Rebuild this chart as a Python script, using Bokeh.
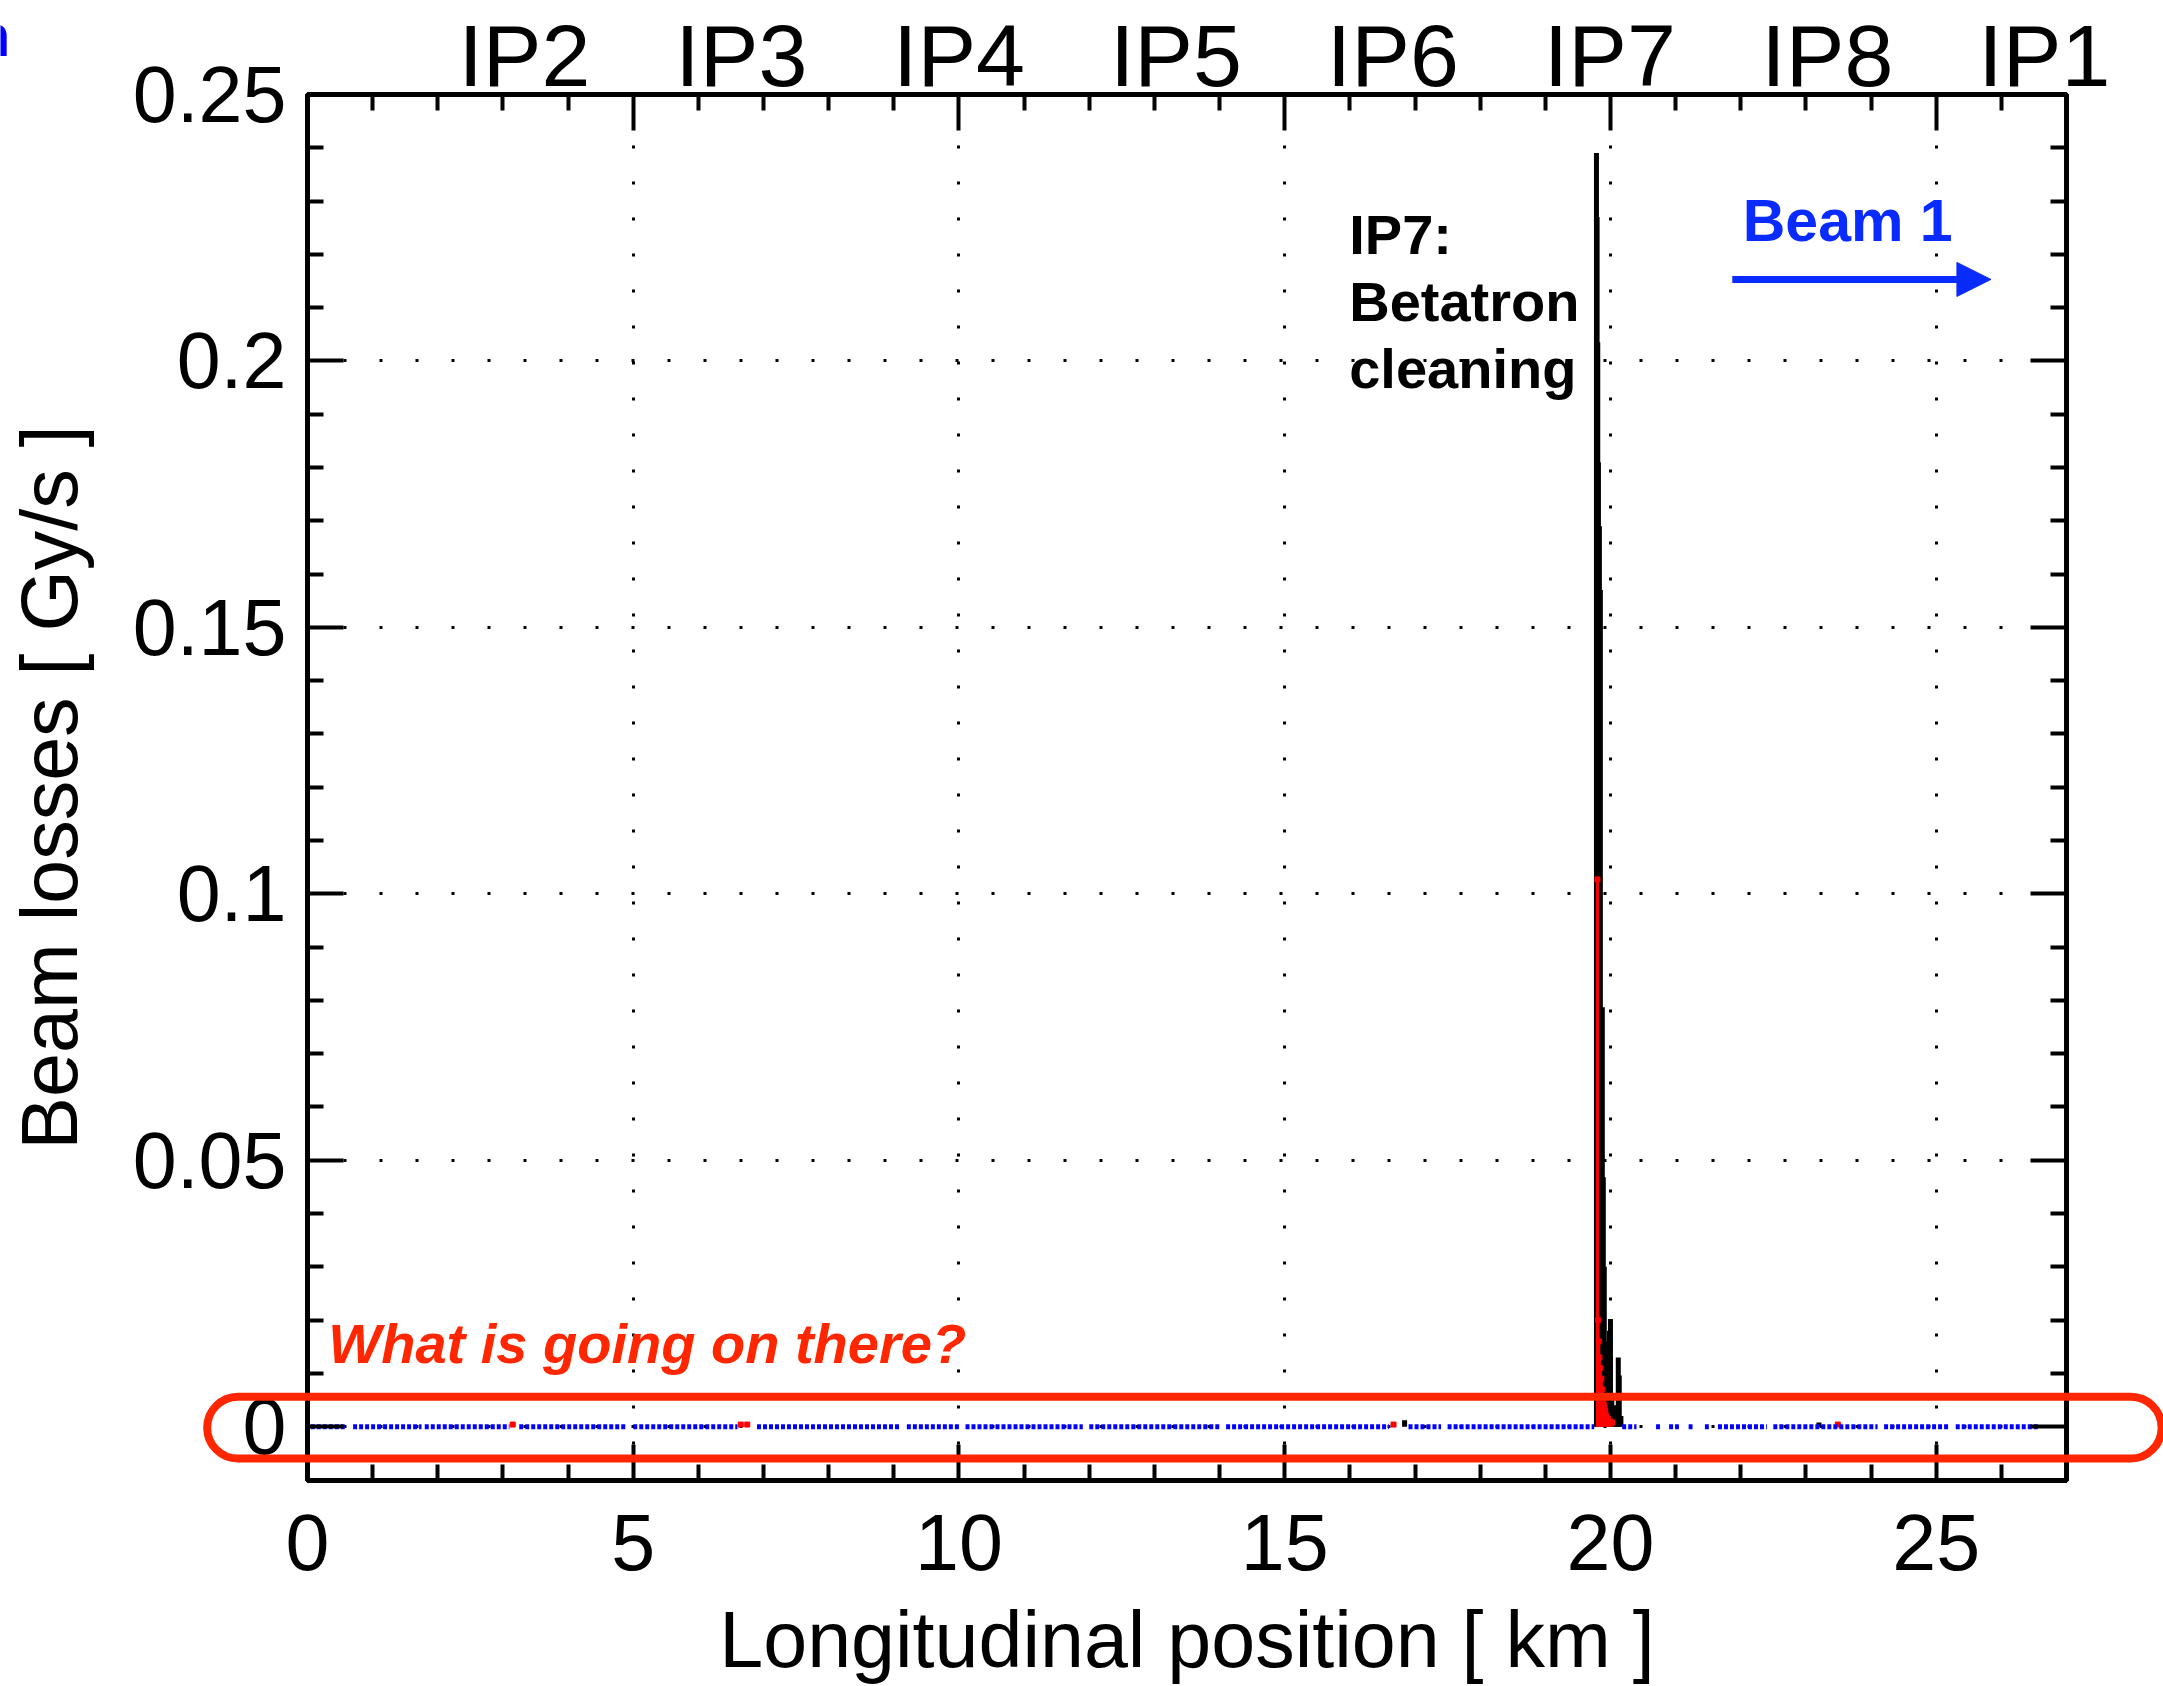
from bokeh.plotting import figure
from bokeh.models import (LinearAxis, FixedTicker, Label, BoxAnnotation, Arrow,
                          NormalHead, Range1d, GridBox, CustomLabelingPolicy)
from bokeh.embed import file_html
from bokeh.resources import INLINE

# ---------------- data ----------------
ip_names = ["IP2", "IP3", "IP4", "IP5", "IP6", "IP7", "IP8", "IP1"]
ip_pos_km = [3.33, 6.66, 10.00, 13.33, 16.66, 19.99, 23.33, 26.66]

# collimator BLMs (black), km / Gy/s
coll_x = [16.84, 19.785, 19.795, 19.805, 19.815, 19.830, 19.845, 19.860, 19.875,
          19.890, 19.905, 19.920, 19.940, 19.960, 19.985, 20.000, 20.020, 20.050,
          20.080, 20.120, 20.135, 20.160, 23.20]
coll_y = [0.0012, 0.239, 0.227, 0.2035, 0.181, 0.169, 0.157, 0.0718, 0.0787,
          0.0468, 0.030, 0.011, 0.016, 0.008, 0.018, 0.0202, 0.006, 0.004,
          0.003, 0.013, 0.0096, 0.002, 0.0008]

# cold BLMs (red)
cold_x = [3.15, 6.65, 6.75, 16.67, 19.800, 19.810, 19.820, 19.830, 19.845, 19.860,
          19.875, 19.890, 19.905, 19.920, 19.940, 19.960, 19.990, 20.030, 23.49]
cold_y = [0.0004, 0.0004, 0.0004, 0.0004, 0.1027, 0.020, 0.016, 0.013, 0.011, 0.009,
          0.007, 0.005, 0.004, 0.003, 0.002, 0.0015, 0.001, 0.0008, 0.0004]

# warm BLMs (blue): stretches of monitors along the ring, all ~0 Gy/s
warm_start = [0.05, 0.70, 1.80, 3.25, 5.00, 6.90, 9.20, 10.10, 12.00, 14.10,
              16.90, 17.50, 20.18, 20.70, 20.90, 21.20, 21.45, 21.65, 22.50, 24.20, 25.30]
warm_end = [0.60, 1.75, 3.10, 4.90, 6.60, 9.10, 10.00, 11.90, 14.00, 16.60,
            17.40, 19.75, 20.40, 20.76, 21.05, 21.26, 21.51, 22.40, 24.10, 25.20, 26.58]
warm_y = [0.0] * len(warm_start)

x_ticks = [0, 5, 10, 15, 20, 25]
x_minor = [1, 2, 3, 4, 6, 7, 8, 9, 11, 12, 13, 14, 16, 17, 18, 19, 21, 22, 23, 24, 26]
y_ticks = [0, 0.05, 0.1, 0.15, 0.2, 0.25]
y_tick_labels = ["0", "0.05", "0.1", "0.15", "0.2", "0.25"]
y_minor = [0.01, 0.02, 0.03, 0.04, 0.06, 0.07, 0.08, 0.09, 0.11, 0.12, 0.13, 0.14,
           0.16, 0.17, 0.18, 0.19, 0.21, 0.22, 0.23, 0.24]

X0, X1 = 0.0, 27.0
Y0, Y1 = -0.0101, 0.25

# ---------------- layout ----------------
W, H = 2163, 1686
BL, BR, BT, BB = 307, 97, 94, 205
FONT = "Liberation Sans"
BLUE_TXT = "#0A2BFF"
RED_TXT = "#FF2600"

p = figure(width=W, height=H, x_range=Range1d(X0, X1), y_range=Range1d(Y0, Y1),
           output_backend="svg", toolbar_location=None, title=None,
           min_border_left=BL, min_border_right=BR,
           min_border_top=BT, min_border_bottom=BB,
           x_axis_label="Longitudinal position [ km ]",
           y_axis_label="Beam losses [ Gy/s ]")
p.frame_align = False
p.background_fill_color = "white"
p.border_fill_color = "white"
p.outline_line_color = "black"
p.outline_line_width = 5

xt = FixedTicker(ticks=x_ticks, minor_ticks=x_minor)
yt = FixedTicker(ticks=y_ticks, minor_ticks=y_minor)


def style_axis(ax):
    ax.axis_line_width = 5
    ax.axis_line_color = "black"
    ax.major_tick_in = 36
    ax.major_tick_out = 0
    ax.minor_tick_in = 16
    ax.minor_tick_out = 0
    ax.major_tick_line_width = 4
    ax.minor_tick_line_width = 4
    ax.major_label_text_font = FONT
    ax.major_label_text_font_size = "79px"
    ax.major_label_text_color = "black"
    ax.axis_label_text_font = FONT
    ax.axis_label_text_font_size = "79px"
    ax.axis_label_text_font_style = "normal"
    ax.axis_label_text_color = "black"


p.xaxis.ticker = xt
p.yaxis.ticker = yt
p.yaxis.major_label_overrides = dict(zip(y_ticks, y_tick_labels))
for ax in p.xaxis + p.yaxis:
    style_axis(ax)
p.xaxis.major_label_standoff = 34
p.xaxis.axis_label_standoff = 22
p.yaxis.major_label_standoff = 21
p.yaxis.axis_label_standoff = 36

hide_all = CustomLabelingPolicy(code="for (const i of indices) indices.unset(i)")
top_ax = LinearAxis(ticker=xt)
right_ax = LinearAxis(ticker=yt)
for ax in (top_ax, right_ax):
    style_axis(ax)
    ax.major_label_text_font_size = "1px"
    ax.major_label_standoff = 0
    ax.major_label_policy = hide_all
p.add_layout(top_ax, "above")
p.add_layout(right_ax, "right")

for g, t in ((p.xgrid, xt), (p.ygrid, yt)):
    g.ticker = t
    g.grid_line_color = "black"
    g.grid_line_width = 3
    g.grid_line_dash = "3 33"

# data
p.segment(x0=coll_x, y0=[0.0] * len(coll_x), x1=coll_x, y1=coll_y,
          line_color="black", line_width=5)
p.segment(x0=cold_x, y0=[0.0] * len(cold_x), x1=cold_x, y1=cold_y,
          line_color="#FF0000", line_width=3)
p.scatter(x=cold_x, y=cold_y, marker="square", size=5, color="#FF0000")
p.segment(x0=warm_start, y0=warm_y, x1=warm_end, y1=warm_y,
          line_color="#0000FF", line_width=5, line_dash="4 2")

p.add_layout(Label(x=15.99, y=0.2297, text="IP7:\nBetatron\ncleaning",
                   text_align="left", text_baseline="top", text_font=FONT,
                   text_font_size="56px", text_font_style="bold",
                   text_color="black", text_line_height=1.07))

p.add_layout(Label(x=22.03, y=0.2325, text="Beam 1", text_align="left",
                   text_baseline="top", text_font=FONT,
                   text_font_size="59px", text_font_style="bold",
                   text_color=BLUE_TXT))
p.add_layout(Arrow(x_start=21.87, y_start=0.2153, x_end=25.84, y_end=0.2153,
                   line_color=BLUE_TXT, line_width=7,
                   end=NormalHead(size=34, fill_color=BLUE_TXT,
                                  line_color=BLUE_TXT)))

p.add_layout(Label(x=0.32, y=0.02157, text="What is going on there?",
                   text_align="left", text_baseline="top",
                   text_font=FONT, text_font_size="56px",
                   text_font_style="bold italic", text_color=RED_TXT))

# ------------- transparent overlay (same data units, frame = whole canvas) -------------
kx = (X1 - X0) / (W - BL - BR)
ky = (Y1 - Y0) / (H - BT - BB)
ov = figure(width=W, height=H,
            x_range=Range1d(X0 - BL * kx, X1 + BR * kx),
            y_range=Range1d(Y0 - BB * ky, Y1 + BT * ky),
            output_backend="svg", toolbar_location=None, title=None,
            x_axis_type=None, y_axis_type=None,
            min_border_left=0, min_border_right=0, min_border_top=0,
            min_border_bottom=0)
ov.frame_align = False
ov.background_fill_color = None
ov.border_fill_color = None
ov.outline_line_color = None
ov.xgrid.visible = False
ov.ygrid.visible = False

for name, pos in zip(ip_names, ip_pos_km):
    ov.add_layout(Label(x=pos, y=Y1 + 89 * ky, text=name, text_align="center",
                        text_baseline="top", text_font=FONT,
                        text_font_size="88px", text_color="black"))

ov.add_layout(BoxAnnotation(left=-1.54, right=28.46, bottom=-0.0058, top=0.0058,
                            fill_alpha=0, line_color=RED_TXT, line_width=8,
                            line_alpha=1, border_radius=31))

# clipped fragment of a slide text at the top-left corner
ov.add_layout(Label(x=-4.56, y=Y1 + 93 * ky, text="n", text_align="right",
                    text_baseline="top", text_font=FONT,
                    text_font_size="60px", text_font_style="bold",
                    text_color="#0000FF"))

layout = GridBox(children=[(p, 0, 0), (ov, 0, 0)])
open("out.html", "w").write(file_html(layout, INLINE))
